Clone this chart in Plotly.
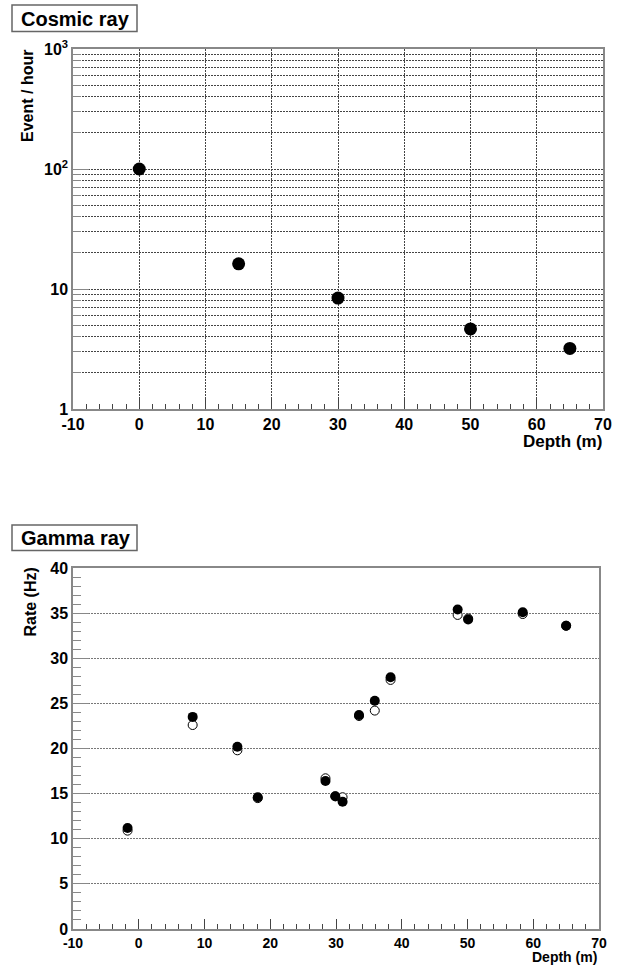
import plotly.graph_objects as go

W, H = 623, 967

# Cosmic ray data
cosmic_depth = [0, 15, 30, 50, 65]
cosmic_rate = [100, 16.2, 8.4, 4.65, 3.2]

# Gamma ray data (two series: filled and open)
gamma_depth = [-1.7, 8.2, 15.0, 18.1, 28.4, 29.9, 31.0, 33.5, 35.9, 38.3, 48.5, 50.1, 58.4, 65.0]
gamma_filled = [11.2, 23.5, 20.2, 14.6, 16.4, 14.7, 14.1, 23.7, 25.3, 27.9, 35.4, 34.3, 35.1, 33.6]
gamma_open = [10.9, 22.6, 19.8, 14.5, 16.7, 14.7, 14.6, 23.6, 24.2, 27.6, 34.8, 34.4, 34.9, 33.6]

x_ticks = [-10, 0, 10, 20, 30, 40, 50, 60, 70]
x_tick_text = ["-10", "0", "10", "20", "30", "40", "50", "60", "70"]
y_log_ticks = [1, 10, 100, 1000]
y_log_text = ["1", "10", "10<sup>2</sup>", "10<sup>3</sup>"]
y_lin_ticks = [0, 5, 10, 15, 20, 25, 30, 35, 40]

FONT = "Liberation Sans, Arial, sans-serif"

def px_x(p):
    return p / W

def px_y(p):
    return 1 - p / H

fig = go.Figure()

fig.add_trace(go.Scatter(x=cosmic_depth, y=cosmic_rate, mode="markers",
                         marker=dict(color="black", size=13),
                         xaxis="x", yaxis="y", showlegend=False))
fig.add_trace(go.Scatter(x=gamma_depth, y=gamma_open, mode="markers",
                         marker=dict(color="white", size=9, line=dict(color="black", width=1)),
                         xaxis="x2", yaxis="y2", showlegend=False))
fig.add_trace(go.Scatter(x=gamma_depth, y=gamma_filled, mode="markers",
                         marker=dict(color="black", size=10),
                         xaxis="x2", yaxis="y2", showlegend=False))

minor_log = [v * d for d in (1, 10, 100) for v in range(2, 10)]

tickfont = dict(family=FONT, size=16, color="black", weight="bold")
tickfont2 = dict(family=FONT, size=14, color="black", weight="bold")
ytickfont = dict(family=FONT, size=16, color="black", weight="bold")
DASH = "2px,1px"

fig.update_layout(
    width=W, height=H,
    margin=dict(l=0, r=0, t=0, b=0),
    paper_bgcolor="white", plot_bgcolor="white",
    xaxis=dict(domain=[px_x(73), px_x(603)], range=[-10, 70], tickvals=x_ticks, ticktext=x_tick_text,
               automargin=False,
               showgrid=True, gridcolor="#444444", griddash=DASH, gridwidth=1,
               zeroline=False, showline=True, linecolor="#888888", linewidth=1.5, mirror=True,
               ticks="inside", ticklen=10, tickcolor="#444444", tickfont=tickfont,
               minor=dict(dtick=2, ticks="inside", ticklen=5, tickcolor="#444444", showgrid=False),
               anchor="y"),
    yaxis=dict(domain=[px_y(409), px_y(49)], type="log", range=[0, 3],
               tickvals=y_log_ticks, ticktext=y_log_text, automargin=False,
               showgrid=True, gridcolor="#444444", griddash=DASH, gridwidth=1,
               zeroline=False, showline=True, linecolor="#888888", linewidth=1.5, mirror=True,
               ticks="inside", ticklen=16, tickcolor="#888888", tickfont=ytickfont,
               minor=dict(tickvals=minor_log, ticks="inside", ticklen=8, tickcolor="#888888",
                          showgrid=True, gridcolor="#444444", griddash=DASH),
               anchor="x"),
    xaxis2=dict(domain=[px_x(73), px_x(599)], range=[-10, 70], tickvals=x_ticks, ticktext=x_tick_text,
                automargin=False,
                showgrid=False, zeroline=False, showline=True, linecolor="#888888", linewidth=1.5,
                mirror=True, ticks="inside", ticklen=10, tickcolor="#444444", tickfont=tickfont2,
                minor=dict(dtick=2, ticks="inside", ticklen=5, tickcolor="#444444", showgrid=False),
                anchor="y2"),
    yaxis2=dict(domain=[px_y(929), px_y(568)], range=[0, 40], tickvals=y_lin_ticks, automargin=False,
                showgrid=True, gridcolor="#777777", griddash=DASH, gridwidth=1,
                zeroline=False, showline=True, linecolor="#888888", linewidth=1.5, mirror=True,
                ticks="inside", ticklen=16, tickcolor="#888888", tickfont=ytickfont,
                minor=dict(dtick=1, ticks="inside", ticklen=8, tickcolor="#888888", showgrid=False),
                anchor="x2"),
)

# title boxes
for (x0, y0, x1, y1) in [(12, 5, 137, 31.5), (12, 525, 137, 550.5)]:
    fig.add_shape(type="rect", xref="paper", yref="paper",
                  x0=px_x(x0), x1=px_x(x1), y0=px_y(y1), y1=px_y(y0),
                  line=dict(color="#666666", width=1.5), fillcolor="white", layer="above")

ann_font_title = dict(family=FONT, size=20, color="black", weight="bold")
ann_font_axis = dict(family=FONT, size=16, color="black", weight="bold")
ann_font_depth = dict(family=FONT, size=17, color="black", weight="bold")
ann_font_depth2 = dict(family=FONT, size=14, color="black", weight="bold")

fig.add_annotation(text="Cosmic ray", xref="paper", yref="paper", x=px_x(19), y=px_y(18.5),
                   xanchor="left", yanchor="middle", showarrow=False, font=ann_font_title)
fig.add_annotation(text="Gamma ray", xref="paper", yref="paper", x=px_x(19), y=px_y(538),
                   xanchor="left", yanchor="middle", showarrow=False, font=ann_font_title)

fig.add_annotation(text="Event / hour", xref="paper", yref="paper", x=px_x(28), y=px_y(48),
                   xanchor="center", yanchor="top", textangle=-90, showarrow=False, font=ann_font_axis)
fig.add_annotation(text="Rate (Hz)", xref="paper", yref="paper", x=px_x(30), y=px_y(566),
                   xanchor="center", yanchor="top", textangle=-90, showarrow=False, font=ann_font_axis)
fig.add_annotation(text="Depth (m)", xref="paper", yref="paper", x=px_x(604), y=px_y(430),
                   xanchor="right", yanchor="top", showarrow=False, font=ann_font_depth)
fig.add_annotation(text="Depth (m)", xref="paper", yref="paper", x=px_x(599), y=px_y(967),
                   xanchor="right", yanchor="bottom", showarrow=False, font=ann_font_depth2)

fig.write_html("out.html")
